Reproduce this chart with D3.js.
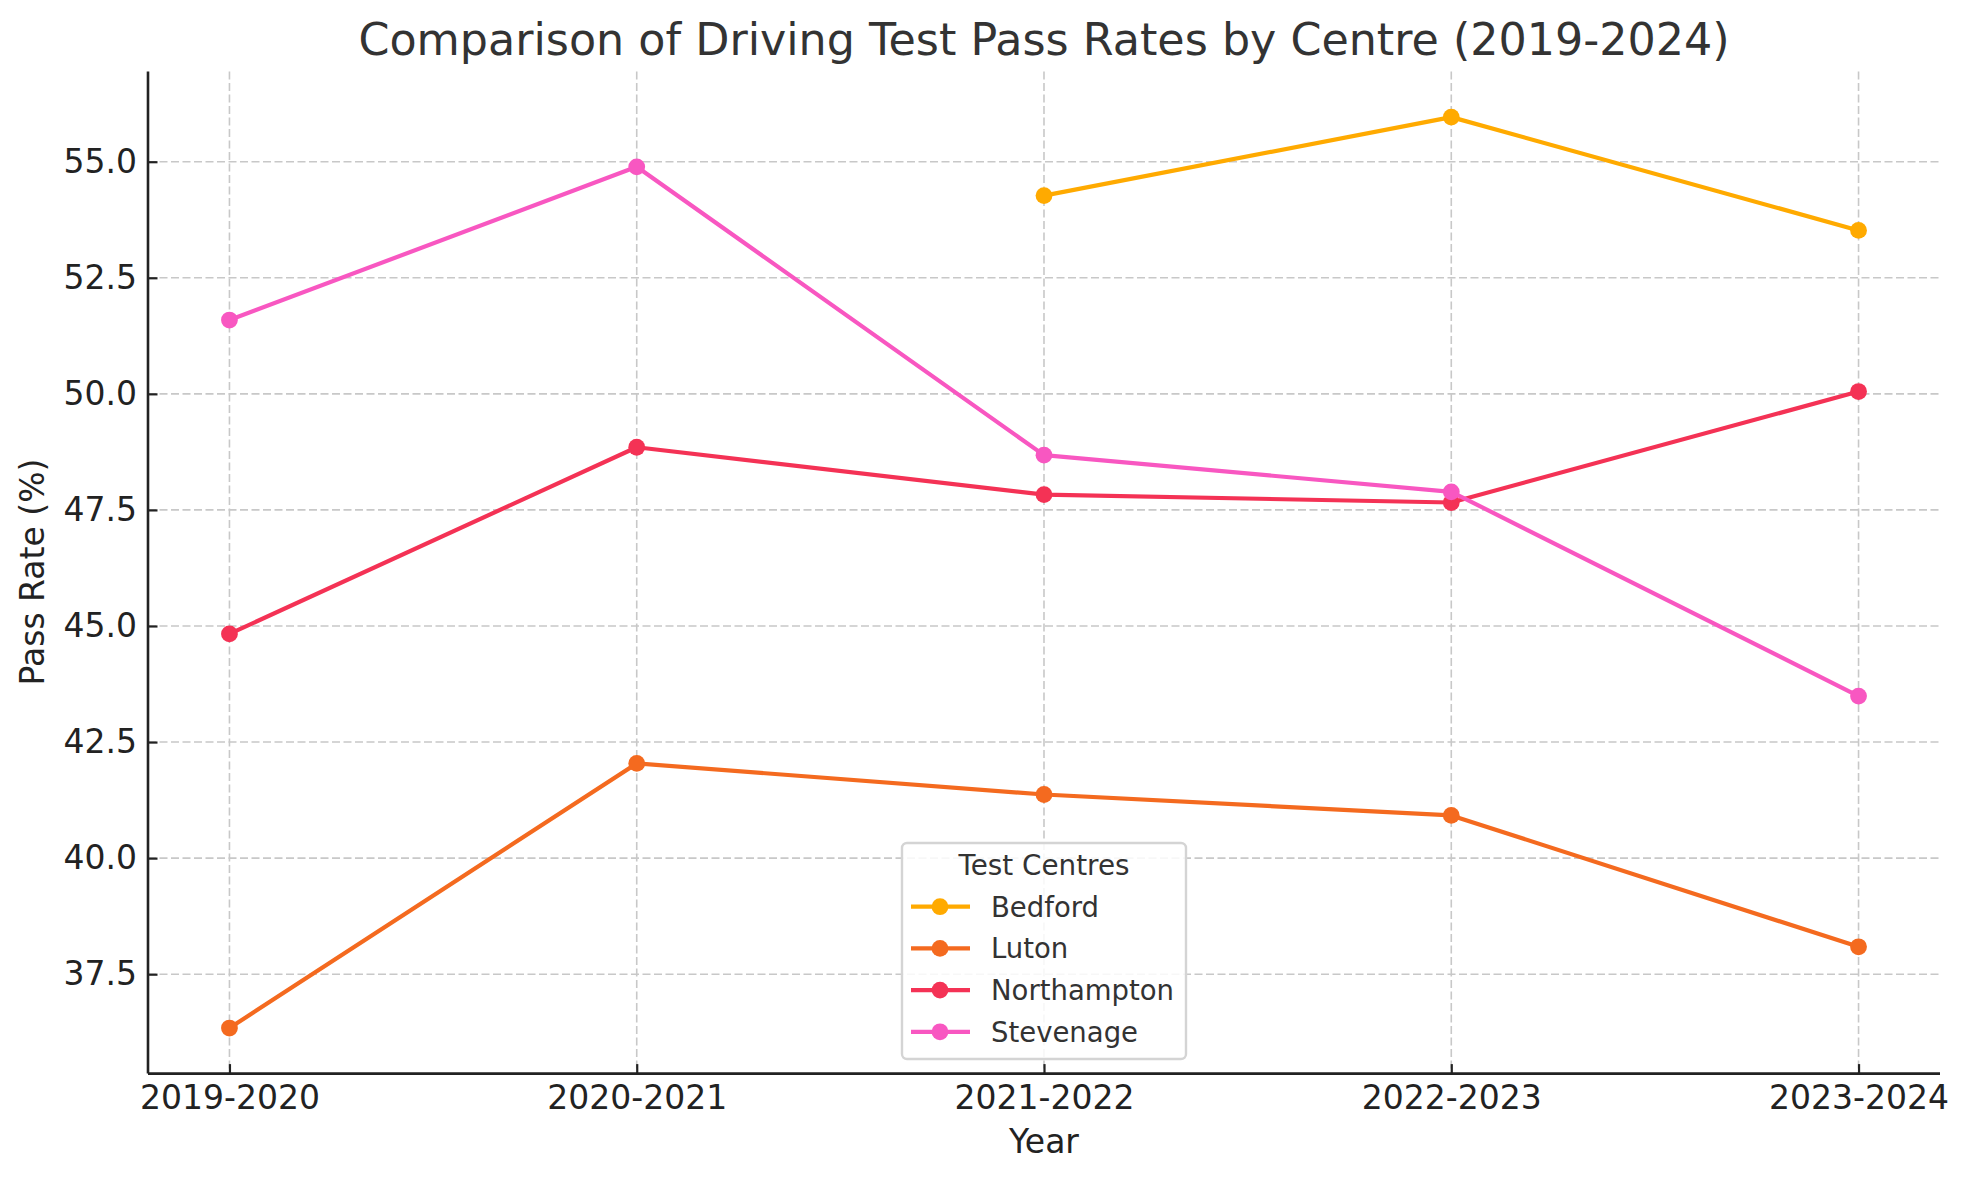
<!DOCTYPE html>
<html>
<head>
<meta charset="utf-8">
<script src="https://cdn.jsdelivr.net/npm/d3@7/dist/d3.min.js"></script>
<style>
  html, body { margin: 0; padding: 0; background: #fff; }
  svg { display: block; font-family: "DejaVu Sans", sans-serif; }
</style>
</head>
<body>
<svg id="chart" width="1969" height="1180"></svg>
<script>
const years = ["2019-2020", "2020-2021", "2021-2022", "2022-2023", "2023-2024"];
const bedford = [null, null, 54.27, 55.96, 53.52];
const luton = [36.34, 42.04, 41.37, 40.92, 38.09];
const northampton = [44.83, 48.85, 47.83, 47.66, 50.05];
const stevenage = [51.59, 54.89, 48.68, 47.89, 43.49];
const centreNames = ["Bedford", "Luton", "Northampton", "Stevenage"];
const centreColors = ["#FFAA00", "#F46A1F", "#F43255", "#F857C1"];
const yTicks = [37.5, 40.0, 42.5, 45.0, 47.5, 50.0, 52.5, 55.0];

const series = [bedford, luton, northampton, stevenage].map((vals, i) => ({
  name: centreNames[i],
  color: centreColors[i],
  values: vals.map((v, j) => ({ year: years[j], idx: j, value: v }))
}));

const svg = d3.select("#chart");
const m = { left: 148, right: 1940, top: 71.6, bottom: 1073.6 };

const x = d3.scaleLinear().domain([-0.2, years.length - 1 + 0.2]).range([m.left, m.right]);
const allVals = series.flatMap(s => s.values.map(d => d.value)).filter(v => v != null);
const [vmin, vmax] = d3.extent(allVals);
const pad = (vmax - vmin) * 0.05;
const y = d3.scaleLinear().domain([vmin - pad, vmax + pad]).range([m.bottom, m.top]);

// grid
const grid = svg.append("g");
grid.selectAll("line.h").data(yTicks).join("line")
  .attr("x1", m.left).attr("x2", m.right)
  .attr("y1", d => y(d)).attr("y2", d => y(d))
  .attr("stroke", "#c8c8c8").attr("stroke-width", 1.6).attr("stroke-dasharray", "8,3.5");
grid.selectAll("line.v").data(years.map((d, i) => i)).join("line")
  .attr("x1", d => x(d)).attr("x2", d => x(d))
  .attr("y1", m.top).attr("y2", m.bottom)
  .attr("stroke", "#c8c8c8").attr("stroke-width", 1.6).attr("stroke-dasharray", "8,3.5");

// lines
const line = d3.line().defined(d => d.value != null).x(d => x(d.idx)).y(d => y(d.value));
series.forEach(s => {
  const g = svg.append("g");
  g.append("path").datum(s.values).attr("d", line)
    .attr("fill", "none").attr("stroke", s.color).attr("stroke-width", 4.2)
    .attr("stroke-linejoin", "round").attr("stroke-linecap", "butt");
  g.selectAll("circle").data(s.values.filter(d => d.value != null)).join("circle")
    .attr("cx", d => x(d.idx)).attr("cy", d => y(d.value)).attr("r", 8.4)
    .attr("fill", s.color);
});

// axes
const yAxis = d3.axisLeft(y).tickValues(yTicks).tickFormat(d3.format(".1f")).tickSizeInner(-9.5).tickSizeOuter(0).tickPadding(11);
const xAxis = d3.axisBottom(x).tickValues(years.map((d, i) => i)).tickFormat(i => years[i]).tickSizeInner(-9.5).tickSizeOuter(0).tickPadding(12);

const gy = svg.append("g").attr("transform", `translate(${m.left},0)`).call(yAxis);
const gx = svg.append("g").attr("transform", `translate(0,${m.bottom})`).call(xAxis);
[gx, gy].forEach(g => {
  g.select(".domain").attr("stroke", "#222").attr("stroke-width", 2.6);
  g.selectAll(".tick line").attr("stroke", "#222").attr("stroke-width", 2.2);
  g.selectAll(".tick text").attr("fill", "#222").style("font-size", "33px").style("font-family", "DejaVu Sans");
});
gy.select(".domain").attr("d", `M0,${m.bottom}V${m.top}`);
gx.select(".domain").attr("d", `M${m.left},0H${m.right}`);
gx.selectAll(".tick text").attr("dy", "0.71em");

// title
svg.append("text").attr("x", (m.left + m.right) / 2).attr("y", 55)
  .attr("text-anchor", "middle").attr("fill", "#333").style("font-size", "44.4px")
  .text("Comparison of Driving Test Pass Rates by Centre (2019-2024)");

// axis labels
svg.append("text").attr("x", (m.left + m.right) / 2).attr("y", 1153)
  .attr("text-anchor", "middle").attr("fill", "#222").style("font-size", "33px").text("Year");
svg.append("text").attr("transform", `translate(44,572) rotate(-90)`)
  .attr("text-anchor", "middle").attr("fill", "#222").style("font-size", "33px").text("Pass Rate (%)");

// legend
const lg = svg.append("g");
lg.append("rect").attr("x", 902).attr("y", 843).attr("width", 284).attr("height", 216)
  .attr("rx", 5).attr("fill", "rgba(255,255,255,0.85)").attr("stroke", "#d4d4d4").attr("stroke-width", 2.4);
lg.append("text").attr("x", 1044).attr("y", 875).attr("text-anchor", "middle")
  .attr("fill", "#333").style("font-size", "27.8px").text("Test Centres");
const rows = lg.selectAll("g.row").data(series).join("g")
  .attr("transform", (d, i) => `translate(0,${906.7 + i * 41.7})`);
rows.append("line").attr("x1", 911).attr("x2", 970).attr("y1", 0).attr("y2", 0)
  .attr("stroke", d => d.color).attr("stroke-width", 4.2);
rows.append("circle").attr("cx", 940).attr("cy", 0).attr("r", 8.4).attr("fill", d => d.color);
rows.append("text").attr("x", 991).attr("y", 0).attr("dy", "0.36em")
  .attr("fill", "#333").style("font-size", "27.5px").text(d => d.name);
</script>
</body>
</html>
